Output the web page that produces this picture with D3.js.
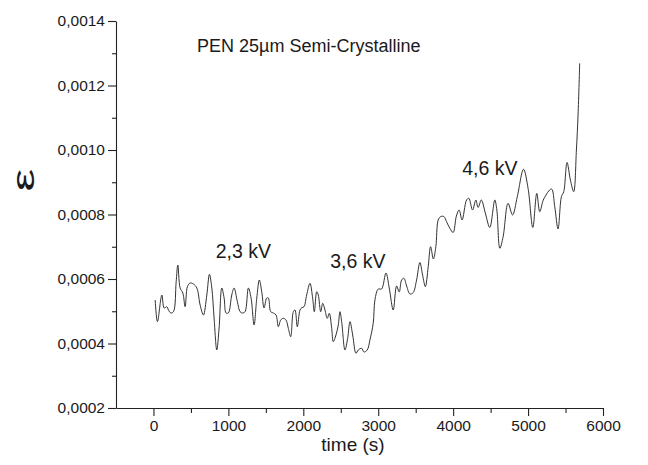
<!DOCTYPE html>
<html><head><meta charset="utf-8">
<script src="https://cdn.jsdelivr.net/npm/d3@7"></script>
<style>
html,body{margin:0;padding:0;background:#fff;}
text{font-family:"Liberation Sans",Arial,sans-serif;fill:#1a1a1a;}
</style></head>
<body>
<svg id="c" width="648" height="465"></svg>
<script>
const time = [23,53,112,143,179,200,232,267,303,325,356,392,423,453,489,533,579,623,667,712,747,779,809,845,876,912,943,969,1000,1045,1076,1120,1156,1192,1223,1267,1303,1343,1379,1413,1445,1476,1512,1533,1565,1600,1636,1667,1699,1733,1769,1800,1832,1867,1889,1920,1956,1979,2009,2045,2089,2125,2147,2179,2200,2232,2259,2289,2320,2347,2379,2400,2436,2467,2489,2512,2556,2592,2623,2659,2703,2733,2779,2809,2853,2889,2933,2956,3000,3045,3103,3147,3200,3245,3280,3312,3343,3379,3423,3467,3512,3556,3592,3629,3667,3699,3736,3769,3800,3832,3876,3912,3956,4000,4043,4080,4119,4179,4209,4259,4303,4333,4376,4429,4489,4556,4583,4623,4667,4733,4793,4856,4939,5000,5063,5116,5156,5209,5312,5356,5400,5445,5476,5520,5565,5609,5645,5667,5689];
const strain = [5.349,4.676,5.504,5.101,5.141,5.039,4.946,4.986,5.916,6.434,5.721,5.566,5.141,5.761,5.876,5.845,5.721,5.194,4.884,5.504,6.146,5.721,4.791,3.798,4.481,5.721,5.411,4.946,4.946,5.504,5.721,5.296,4.986,4.946,4.986,5.721,5.411,4.574,5.411,5.969,5.606,5.101,5.411,5.411,4.986,4.946,4.884,4.521,4.729,4.781,4.729,4.471,4.211,4.986,5.039,4.521,5.039,5.110,5.141,5.504,5.867,5.402,4.986,5.606,5.504,4.986,5.247,5.039,4.781,4.936,4.471,4.056,4.264,4.574,4.986,4.676,3.798,4.161,4.676,4.264,3.696,3.798,3.851,3.736,3.798,4.109,4.626,5.349,5.690,5.690,6.186,5.721,5.039,5.783,5.597,5.969,6.022,5.783,5.535,5.581,5.969,6.512,6.124,5.761,6.381,7.002,6.620,7.002,7.830,7.932,7.938,7.777,7.572,7.442,7.954,8.140,7.830,8.450,8.502,8.140,8.450,8.217,8.450,8.047,7.597,8.450,8.140,6.952,7.312,8.347,7.985,8.552,9.402,8.812,7.597,8.657,8.087,8.481,8.791,8.242,7.550,8.552,8.707,9.612,9.070,8.707,10.000,11.085,12.688].map(v => v * 1e-4);
const yTicks = [0.0002,0.0004,0.0006,0.0008,0.0010,0.0012,0.0014];
const yMinor = [0.0003,0.0005,0.0007,0.0009,0.0011,0.0013];
const xTicks = [0,1000,2000,3000,4000,5000,6000];
const xMinor = [500,1500,2500,3500,4500,5500];
const title = "PEN 25µm Semi-Crystalline";
const noteText = ["2,3 kV","3,6 kV","4,6 kV"];
const noteTime = [830,2360,4120];
const noteStrain = [0.000665,0.000634,0.000922];
const xLabel = "time (s)";
const yLabel = "ε";

const svg = d3.select("#c");
const x = d3.scaleLinear().domain([-500,6000]).range([116,603]);
const y = d3.scaleLinear().domain([0.0002,0.0014]).range([408,21]);
const fmt = v => d3.format(".4f")(v).replace(".", ",");

svg.append("g").attr("transform","translate(116,0)")
  .call(d3.axisLeft(y).tickValues(yTicks).tickFormat(fmt).tickSize(8).tickSizeOuter(0).tickPadding(3));
svg.append("g").attr("transform","translate(116,0)")
  .call(d3.axisLeft(y).tickValues(yMinor).tickFormat("").tickSize(4).tickSizeOuter(0))
  .select(".domain").remove();
svg.append("g").attr("transform","translate(0,408)")
  .call(d3.axisBottom(x).tickValues(xTicks).tickFormat(d3.format("d")).tickSize(8).tickSizeOuter(0).tickPadding(4));
svg.append("g").attr("transform","translate(0,408)")
  .call(d3.axisBottom(x).tickValues(xMinor).tickFormat("").tickSize(5).tickSizeOuter(0))
  .select(".domain").remove();
svg.selectAll(".domain, .tick line").attr("stroke","#222").attr("stroke-width",1.1);
svg.selectAll(".tick text").attr("font-size",15.5).attr("fill","#1a1a1a").attr("font-family","Liberation Sans, Arial, sans-serif");

const line = d3.line().x((d,i)=>x(time[i])).y((d,i)=>y(strain[i])).curve(d3.curveCatmullRom.alpha(0.5));
svg.append("path").datum(strain).attr("d",line).attr("fill","none").attr("stroke","#333").attr("stroke-width",1);

svg.append("text").attr("x",197).attr("y",52).attr("font-size",18).text(title);
noteText.forEach((t,i) => svg.append("text").attr("x",x(noteTime[i])).attr("y",y(noteStrain[i])).attr("font-size",19.5).text(t));
svg.append("text").attr("x",353).attr("y",451).attr("text-anchor","middle").attr("font-size",19).text(xLabel);
svg.append("text").attr("transform","translate(34,180) rotate(-90) scale(1.6,1)").attr("text-anchor","middle").attr("font-size",32).text(yLabel);
</script>
</body></html>
